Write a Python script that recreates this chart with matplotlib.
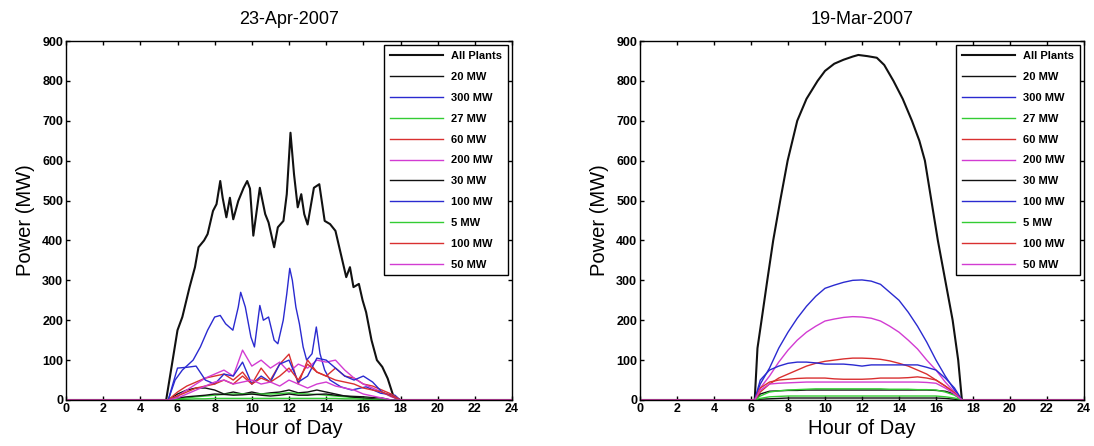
import matplotlib.pyplot as plt

plt.rcParams['font.family'] = ['Liberation Sans', 'DejaVu Sans']

# legend order is also the drawing order (last one ends up on top)
PLANT_LABELS = ['All Plants', '20 MW', '300 MW', '27 MW', '60 MW', '200 MW',
                '30 MW', '100 MW', '5 MW', '100 MW', '50 MW']
PLANT_COLORS = ['#111111', '#111111', '#2a2ad0', '#33cc33', '#d93030', '#d23cd2',
                '#111111', '#2a2ad0', '#33cc33', '#d93030', '#d23cd2']

# ---- 23-Apr-2007 (cloudy day) ----
apr_all_hr = [0, 5.39, 5.68, 6.0, 6.26, 6.65, 6.94, 7.13, 7.43, 7.62, 7.91, 8.1, 8.3,
              8.43, 8.63, 8.82, 9.0, 9.27, 9.56, 9.75, 9.9, 10.08, 10.43, 10.72, 10.9,
              11.2, 11.4, 11.7, 11.88, 12.08, 12.27, 12.47, 12.66, 12.82, 13.0, 13.34,
              13.63, 13.92, 14.21, 14.5, 14.79, 15.08, 15.28, 15.47, 15.76, 15.96, 16.15,
              16.44, 16.73, 17.02, 17.31, 17.6, 17.8, 18.0, 24]
apr_all_mw = [0, 0, 83, 175, 208, 283, 333, 383, 400, 416, 474, 491, 549,
              507, 458, 507, 453, 499, 532, 549, 530, 412, 532, 466, 445,
              383, 433, 449, 516, 670, 566, 483, 516, 466, 440, 532,
              541, 449, 441, 424, 366, 308, 333, 283, 291, 250, 220,
              150, 100, 83, 54, 12, 2, 0, 0]

apr_300_hr = [0, 5.5, 5.87, 6.26, 6.84, 7.23, 7.62, 8.0, 8.3, 8.59, 8.98, 9.27, 9.4, 9.65,
              9.95, 10.14, 10.43, 10.62, 10.9, 11.2, 11.4, 11.69, 11.88, 12.04, 12.18,
              12.37, 12.56, 12.76, 12.95, 13.24, 13.47, 13.67, 13.92, 14.21, 14.79, 15.37,
              16.15, 16.93, 17.7, 17.99, 24]
apr_300_mw = [0, 0, 50, 75, 100, 133, 175, 208, 212, 191, 175, 233, 270, 233,
              158, 133, 237, 200, 208, 150, 141, 200, 266, 330, 300,
              233, 191, 133, 100, 116, 183, 116, 75, 50, 33, 25,
              33, 17, 12, 0, 0]

apr_hr = [0, 5.5, 6, 6.5, 7, 7.5, 8, 8.5, 9, 9.5, 10, 10.5, 11, 11.5, 12, 12.5, 13,
          13.5, 14, 14.5, 15, 15.5, 16, 16.5, 17, 17.5, 18, 24]
apr_20_mw = [0, 0, 15, 25, 30, 30, 25, 15, 20, 15, 20, 15, 18, 20, 25, 18, 20,
             25, 20, 15, 10, 9, 8, 6, 5, 0, 0, 0]
apr_27_mw = [0, 0, 3, 5, 8, 10, 12, 14, 15, 15, 15, 15, 15, 16, 18, 16, 15,
             14, 12, 10, 8, 6, 5, 3, 0, 0, 0, 0]
apr_60_mw = [0, 0, 20, 35, 45, 55, 60, 65, 50, 70, 40, 80, 50, 90, 115, 40, 100,
             70, 60, 80, 60, 55, 40, 35, 25, 15, 0, 0]
apr_200_mw = [0, 0, 10, 25, 40, 55, 65, 75, 60, 125, 85, 100, 80, 95, 70, 90, 80,
              100, 95, 100, 75, 55, 40, 30, 20, 8, 0, 0]
apr_30_mw = [0, 0, 5, 8, 10, 12, 15, 14, 12, 13, 15, 12, 10, 12, 15, 12, 12,
             14, 15, 12, 10, 7, 5, 3, 0, 0, 0, 0]
apr_100a_mw = [0, 0, 80, 82, 85, 50, 40, 65, 60, 95, 40, 60, 45, 90, 100, 45, 60,
               105, 100, 80, 60, 50, 60, 45, 20, 10, 0, 0]
apr_5_mw = [0, 0, 1, 2, 3, 3, 4, 4, 4, 4, 4, 4, 4, 4, 4, 4, 4,
            4, 4, 4, 3, 3, 2, 1, 0, 0, 0, 0]
apr_100b_mw = [0, 0, 10, 20, 30, 35, 40, 50, 40, 60, 40, 55, 45, 60, 80, 50, 90,
               70, 60, 50, 45, 40, 30, 25, 20, 10, 0, 0]
apr_50_mw = [0, 0, 5, 15, 25, 35, 45, 50, 40, 45, 50, 40, 45, 35, 50, 40, 30,
             40, 45, 35, 30, 25, 15, 10, 5, 0, 0, 0]

# ---- 19-Mar-2007 (clear day) ----
mar_all_hr = [0, 6.2, 6.35, 6.57, 6.88, 7.2, 7.58, 7.98, 8.5, 9, 9.6, 10, 10.5, 11,
              11.5, 11.8, 12.3, 12.8, 13.2, 13.7, 14.2, 14.7, 15.1, 15.4, 15.75, 16.1,
              16.5, 16.9, 17.2, 17.4, 24]
mar_all_mw = [0, 0, 130, 200, 300, 400, 500, 600, 700, 755, 800, 825, 843, 853,
              861, 865, 862, 858, 840, 800, 755, 700, 650, 600, 500, 400,
              300, 200, 100, 0, 0]

mar_hr = [0, 6.2, 6.5, 7, 7.5, 8, 8.5, 9, 9.5, 10, 10.5, 11, 11.5, 12, 12.5, 13,
          13.5, 14, 14.5, 15, 15.5, 16, 16.5, 17, 17.4, 24]
mar_20_mw = [0, 0, 15, 22, 23, 24, 24, 25, 25, 25, 25, 25, 25, 25, 25, 25,
             25, 25, 25, 25, 25, 24, 22, 15, 0, 0]
mar_300_mw = [0, 0, 40, 80, 130, 170, 205, 235, 260, 280, 288, 295, 300, 301, 298, 290,
              270, 250, 220, 185, 145, 100, 60, 25, 0, 0]
mar_27_mw = [0, 0, 10, 20, 23, 25, 26, 27, 28, 28, 28, 28, 28, 28, 28, 28,
             27, 27, 27, 26, 26, 25, 20, 12, 0, 0]
mar_60_mw = [0, 0, 20, 40, 55, 65, 75, 85, 92, 97, 100, 103, 105, 105, 104, 102,
             98, 92, 85, 75, 65, 50, 35, 18, 0, 0]
mar_200_mw = [0, 0, 30, 60, 95, 125, 150, 170, 185, 198, 203, 207, 209, 208, 205, 198,
              185, 170, 150, 128, 100, 75, 45, 20, 0, 0]
mar_30_mw = [0, 0, 2, 3, 4, 5, 5, 5, 5, 5, 5, 5, 5, 5, 5, 5,
             5, 5, 5, 5, 5, 5, 4, 2, 0, 0]
mar_100a_mw = [0, 0, 50, 75, 85, 92, 95, 95, 93, 90, 90, 90, 88, 85, 88, 88,
               88, 88, 88, 88, 82, 75, 55, 30, 0, 0]
mar_5_mw = [0, 0, 4, 8, 9, 10, 10, 10, 10, 10, 10, 10, 10, 10, 10, 10,
            10, 10, 10, 10, 10, 10, 8, 5, 0, 0]
mar_100b_mw = [0, 0, 30, 45, 50, 52, 54, 55, 55, 55, 53, 52, 52, 52, 53, 55,
               55, 55, 56, 58, 55, 50, 35, 18, 0, 0]
mar_50_mw = [0, 0, 25, 40, 42, 43, 44, 45, 45, 45, 45, 45, 45, 45, 45, 45,
             45, 45, 45, 45, 44, 42, 30, 15, 0, 0]

apr_series = [(apr_all_hr, apr_all_mw), (apr_hr, apr_20_mw), (apr_300_hr, apr_300_mw),
              (apr_hr, apr_27_mw), (apr_hr, apr_60_mw), (apr_hr, apr_200_mw),
              (apr_hr, apr_30_mw), (apr_hr, apr_100a_mw), (apr_hr, apr_5_mw),
              (apr_hr, apr_100b_mw), (apr_hr, apr_50_mw)]
mar_series = [(mar_all_hr, mar_all_mw), (mar_hr, mar_20_mw), (mar_hr, mar_300_mw),
              (mar_hr, mar_27_mw), (mar_hr, mar_60_mw), (mar_hr, mar_200_mw),
              (mar_hr, mar_30_mw), (mar_hr, mar_100a_mw), (mar_hr, mar_5_mw),
              (mar_hr, mar_100b_mw), (mar_hr, mar_50_mw)]


def draw_day(ax, series, title):
    for i, (hr, mw) in enumerate(series):
        lw = 1.5 if i == 0 else 1.0
        ax.plot(hr, mw, color=PLANT_COLORS[i], lw=lw, label=PLANT_LABELS[i])
    ax.set_xlim(0, 24)
    ax.set_ylim(0, 900)
    ax.set_xticks(range(0, 25, 2))
    ax.set_yticks(range(0, 901, 100))
    ax.tick_params(direction='in', top=True, right=True, length=3, width=1,
                   labelsize=9, pad=2)
    for lab in ax.get_xticklabels() + ax.get_yticklabels():
        lab.set_fontweight('bold')
    for sp in ax.spines.values():
        sp.set_linewidth(1.0)
    ax.set_title(title, fontsize=13, pad=12)
    ax.set_xlabel('Hour of Day', fontsize=14.5, labelpad=3)
    ax.set_ylabel('Power (MW)', fontsize=14.5, labelpad=5)
    leg = ax.legend(loc='upper right', fontsize=8, fancybox=False, edgecolor='k',
                    handlelength=4.8, handletextpad=0.7, labelspacing=0.98,
                    borderpad=0.5, borderaxespad=0.4, framealpha=1)
    leg.get_frame().set_linewidth(1.0)
    for t in leg.get_texts():
        t.set_fontweight('bold')


fig = plt.figure(figsize=(10.94, 4.46), dpi=100)
ax1 = fig.add_axes([66 / 1094, 1 - 400 / 446, 446 / 1094, 359 / 446])
ax2 = fig.add_axes([640 / 1094, 1 - 400 / 446, 444 / 1094, 359 / 446])

draw_day(ax1, apr_series, '23-Apr-2007')
draw_day(ax2, mar_series, '19-Mar-2007')

fig.savefig('out.png', dpi=100)
